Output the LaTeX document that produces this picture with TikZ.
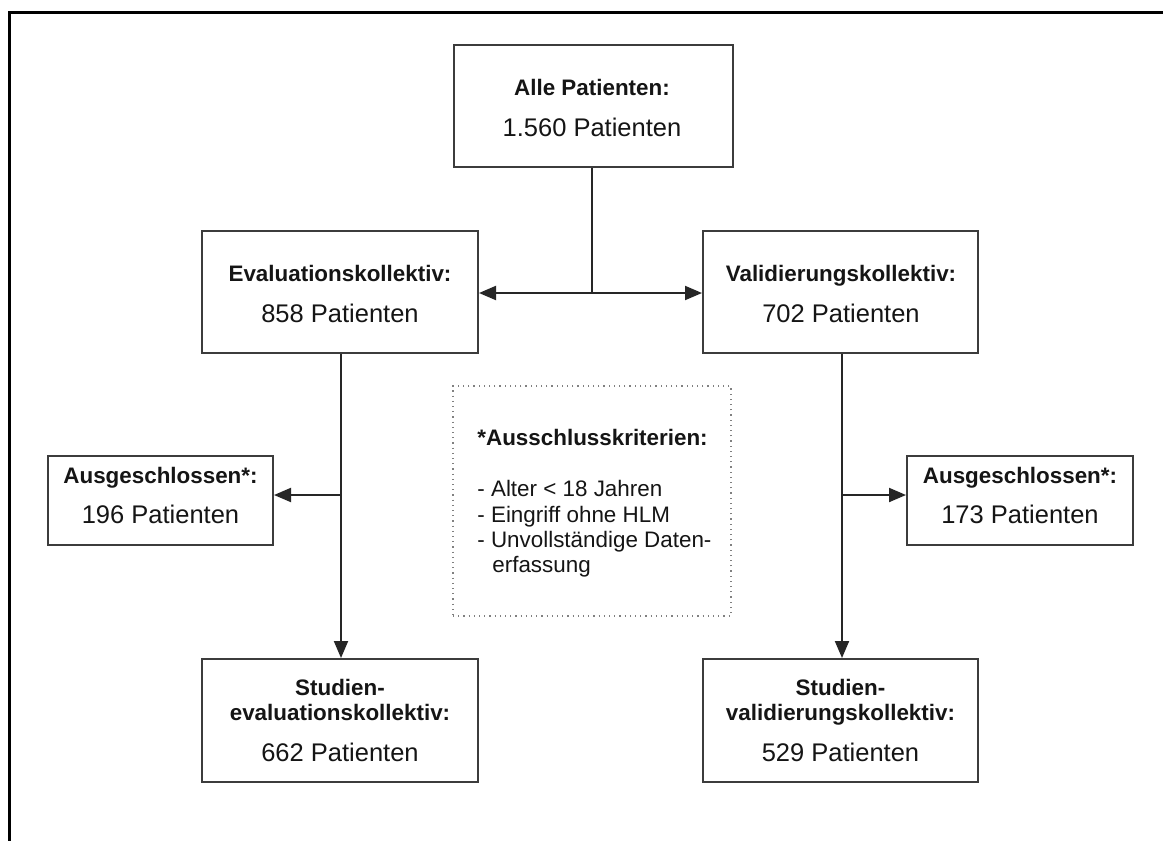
\documentclass[tikz,border=0pt]{standalone}
\usepackage{fontspec}
\setmainfont{Liberation Sans}
\usetikzlibrary{arrows.meta}
\definecolor{boxgray}{HTML}{3C3C3C}
\definecolor{txt}{HTML}{151515}
\definecolor{dotgray}{HTML}{808080}
\begin{document}
\begin{tikzpicture}[x=0.5pt,y=-0.5pt,
  box/.style={draw=boxgray, line width=1pt, fill=white, inner sep=0pt},
  bt/.style={font=\fontsize{11.2}{12.5}\selectfont\bfseries, text=txt, inner sep=0pt, anchor=base},
  nt/.style={font=\fontsize{12.75}{14}\selectfont, text=txt, inner sep=0pt, anchor=base},
  lt/.style={font=\fontsize{11.2}{12.5}\selectfont, text=txt, inner sep=0pt, anchor=base west},
  conn/.style={draw=black!85, line width=1pt},
  arr/.style={conn, -{Triangle[length=8.5pt,width=7pt]}}]
\useasboundingbox (0,0) rectangle (1163,841);
\fill[white] (0,0) rectangle (1163,841);
% outer frame
\draw[line width=1.5pt] (1163,12) -- (9,12) -- (9,841);

% boxes
\node[box, minimum width=139.5pt, minimum height=61pt] (all) at (593.5,106) {};
\node[bt] (allA) at (592,95) {Alle Patienten:};
\node[nt] (allB) at (592,136) {1.560 Patienten};

\node[box, minimum width=138pt, minimum height=61pt] (eval) at (340,292) {};
\node[bt] (evalA) at (340,281) {Evaluationskollektiv:};
\node[nt] (evalB) at (340,322) {858 Patienten};

\node[box, minimum width=137.5pt, minimum height=61pt] (vali) at (840.5,292) {};
\node[bt] (valiA) at (841,281) {Validierungskollektiv:};
\node[nt] (valiB) at (841,322) {702 Patienten};

\node[box, minimum width=112.5pt, minimum height=44.5pt] (ausL) at (160.5,500.5) {};
\node[bt] (ausLA) at (160.5,483) {Ausgeschlossen*:};
\node[nt] (ausLB) at (160.5,523) {196 Patienten};

\node[box, minimum width=113pt, minimum height=44.5pt] (ausR) at (1020,500.5) {};
\node[bt] (ausRA) at (1020,483) {Ausgeschlossen*:};
\node[nt] (ausRB) at (1020,523) {173 Patienten};

\node[box, minimum width=138pt, minimum height=61.5pt] (stL) at (340,720.5) {};
\node[bt] (stLA) at (340,695) {Studien-};
\node[bt] (stLB) at (340,720) {evaluationskollektiv:};
\node[nt] (stLC) at (340,761) {662 Patienten};

\node[box, minimum width=137.5pt, minimum height=61.5pt] (stR) at (840.5,720.5) {};
\node[bt] (stRA) at (840.5,695) {Studien-};
\node[bt] (stRB) at (840.5,720) {validierungskollektiv:};
\node[nt] (stRC) at (840.5,761) {529 Patienten};

% criteria box
\node[draw=dotgray, dotted, line width=0.6pt, fill=white, inner sep=0pt,
      minimum width=139pt, minimum height=115pt] (krit) at (592,501) {};
\node[bt, anchor=base west] (kritT) at (477,445) {*Ausschlusskriterien:};
\node[lt] (k1) at (477,496) {- Alter < 18 Jahren};
\node[lt] (k2) at (477,522) {- Eingriff ohne HLM};
\node[lt] (k3) at (477,547) {- Unvollständige Daten-};
\node[lt] (k4) at (492,572) {erfassung};

% connectors
\coordinate (split) at (592,293);
\draw[conn] (all.south -| split) -- (split);
\draw[arr] (split) -- (eval.east |- split);
\draw[arr] (split) -- (vali.west |- split);

\coordinate (bL) at (341,495);
\coordinate (bR) at (842,495);
\draw[arr] (eval.south -| bL) -- (stL.north -| bL);
\draw[arr] (bL) -- (ausL.east |- bL);
\draw[arr] (vali.south -| bR) -- (stR.north -| bR);
\draw[arr] (bR) -- (ausR.west |- bR);
\end{tikzpicture}
\end{document}
